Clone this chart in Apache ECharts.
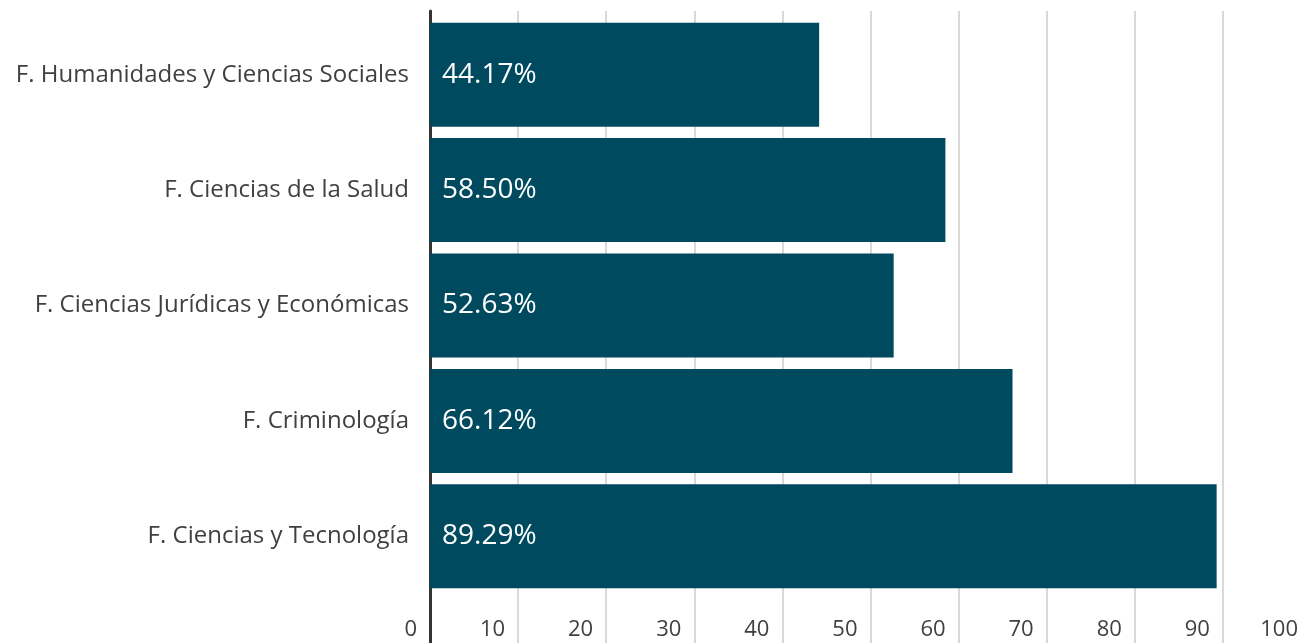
<!DOCTYPE html>
<html>
<head>
<meta charset="utf-8">
<script src="https://cdn.jsdelivr.net/npm/echarts@6/dist/echarts.min.js"></script>
<style>
  html, body { margin: 0; padding: 0; background: #fff; }
  #chart { width: 1301px; height: 643px; }
</style>
</head>
<body>
<div id="chart"></div>
<script>
// facultades, de arriba abajo
var categories = [
  'F. Humanidades y Ciencias Sociales',
  'F. Ciencias de la Salud',
  'F. Ciencias Jurídicas y Económicas',
  'F. Criminología',
  'F. Ciencias y Tecnología'
]
var values = [44.17, 58.50, 52.63, 66.12, 89.29]
var xMin = 0
var xMax = 100
var xStep = 10

var font = 'Open Sans'
var chart = echarts.init(document.getElementById('chart'))
chart.setOption({
  backgroundColor: '#ffffff',
  animation: false,
  grid: [
    // barras
    { left: 430, width: 881, top: 17, height: 577, outerBoundsMode: 'none' },
    // líneas de fondo y eje x
    { left: 430, width: 881, top: 11, bottom: 0, outerBoundsMode: 'none' }
  ],
  xAxis: [
    { gridIndex: 0, type: 'value', min: xMin, max: xMax, show: false },
    {
      gridIndex: 1,
      type: 'value',
      min: xMin,
      max: xMax,
      interval: xStep,
      axisLine: { show: false },
      axisTick: { show: false },
      splitLine: { show: true, lineStyle: { color: '#d9d9d9', width: 2 } },
      axisLabel: {
        inside: true,
        margin: 2,
        align: 'right',
        padding: [0, 13, 0, 0],
        color: '#404040',
        fontSize: 22,
        fontFamily: font,
        showMaxLabel: true,
        showMinLabel: true
      }
    }
  ],
  yAxis: [
    {
      gridIndex: 0,
      type: 'category',
      inverse: true,
      data: categories,
      axisLine: { show: false },
      axisTick: { show: false },
      axisLabel: {
        margin: 21,
        color: '#404040',
        fontSize: 24,
        fontFamily: font
      }
    },
    {
      gridIndex: 1,
      type: 'value',
      min: 0,
      max: 1,
      axisLine: { show: true, lineStyle: { color: '#333333', width: 3 } },
      axisTick: { show: false },
      axisLabel: { show: false },
      splitLine: { show: false }
    }
  ],
  series: [
    {
      type: 'bar',
      xAxisIndex: 0,
      yAxisIndex: 0,
      data: values,
      barWidth: 104,
      itemStyle: { color: '#004a5f' },
      z: 3,
      label: {
        show: true,
        position: 'insideLeft',
        distance: 12,
        color: '#ffffff',
        fontSize: 28,
        fontFamily: font,
        formatter: function (p) {
          return p.value.toFixed(2) + '%'
        }
      }
    }
  ]
})
</script>
</body>
</html>
